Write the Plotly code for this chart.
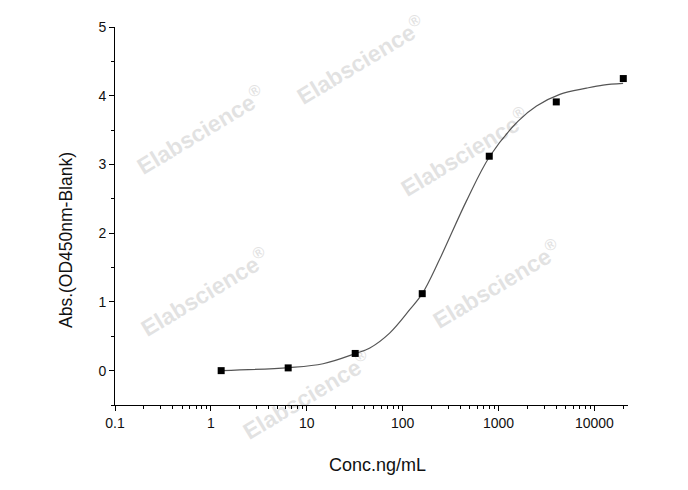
import plotly.graph_objects as go

# standard points (5-fold dilution series)
conc = [1.28, 6.4, 32, 160, 800, 4000, 20000]
absorbance = [0.0, 0.04, 0.25, 1.12, 3.12, 3.91, 4.25]

# fitted curve
fit_conc = [1.29, 6.5, 14.8, 32.3, 45.5, 73.6, 119, 160, 243, 463, 811, 1600, 2490, 4355, 8260, 12300, 19900]
fit_abs = [0.0, 0.044, 0.10, 0.25, 0.33, 0.55, 0.89, 1.12, 1.62, 2.47, 3.12, 3.63, 3.85, 4.02, 4.11, 4.155, 4.18]

x_ticks = [0.1, 1, 10, 100, 1000, 10000]
x_labels = ["0.1", "1", "10", "100", "1000", "10000"]
y_ticks = [0, 1, 2, 3, 4, 5]

# watermark centres in pixels of the 688x490 page
wm_px = [(360, 60), (200, 130), (464, 152), (204, 292), (496, 284), (306, 395)]

# plot box in page pixels (page body has an 8px margin)
L, R, T, B = 115, 628, 27, 405
PAD = 8

fig = go.Figure()
fig.add_trace(go.Scatter(x=fit_conc, y=fit_abs, mode="lines",
                         line=dict(color="#555555", width=1.2, shape="spline"),
                         hoverinfo="skip"))
fig.add_trace(go.Scatter(x=conc, y=absorbance, mode="markers",
                         marker=dict(symbol="square", size=7, color="black")))

for px, py in wm_px:
    fig.add_annotation(text="Elabscience<sup>®</sup>", xref="paper", yref="paper",
                       x=(px - L) / (R - L), y=(B - py) / (B - T),
                       xanchor="center", yanchor="middle",
                       showarrow=False, textangle=-31, opacity=0.11,
                       font=dict(family="Liberation Sans", size=23, color="black", weight="bold"))

# axis titles
fig.add_annotation(text="Conc.ng/mL", xref="paper", yref="paper",
                   x=(377 - L) / (R - L), y=(B - 465) / (B - T), showarrow=False,
                   xanchor="center", yanchor="middle",
                   font=dict(family="Liberation Sans", size=18, color="#111"))
fig.add_annotation(text="Abs.(OD450nm-Blank)", xref="paper", yref="paper",
                   x=(66 - L) / (R - L), y=(B - 240) / (B - T), showarrow=False,
                   xanchor="center", yanchor="middle",
                   textangle=-90, font=dict(family="Liberation Sans", size=17.5, color="#111"))

fig.update_xaxes(type="log", range=[-1, 4.35], tickvals=x_ticks, ticktext=x_labels,
                 ticks="outside", ticklen=5, tickwidth=1, tickcolor="black",
                 minor=dict(ticks="outside", ticklen=3, tickcolor="black", dtick="D1", showgrid=False),
                 showline=True, linecolor="black", linewidth=1,
                 showgrid=False, zeroline=False)
fig.update_yaxes(range=[-0.5, 5], tickvals=y_ticks,
                 ticks="outside", ticklen=5, tickwidth=1, tickcolor="black",
                 minor=dict(ticks="outside", ticklen=3, tickcolor="black", dtick=0.5, showgrid=False),
                 showline=True, linecolor="black", linewidth=1,
                 showgrid=False, zeroline=False)

fig.update_layout(width=688 - PAD, height=490 - PAD, showlegend=False,
                  margin=dict(l=L - PAD, r=688 - R, t=T - PAD, b=490 - B),
                  plot_bgcolor="white", paper_bgcolor="white",
                  font=dict(family="Liberation Sans", size=14, color="#111"))
fig.write_html("out.html")
